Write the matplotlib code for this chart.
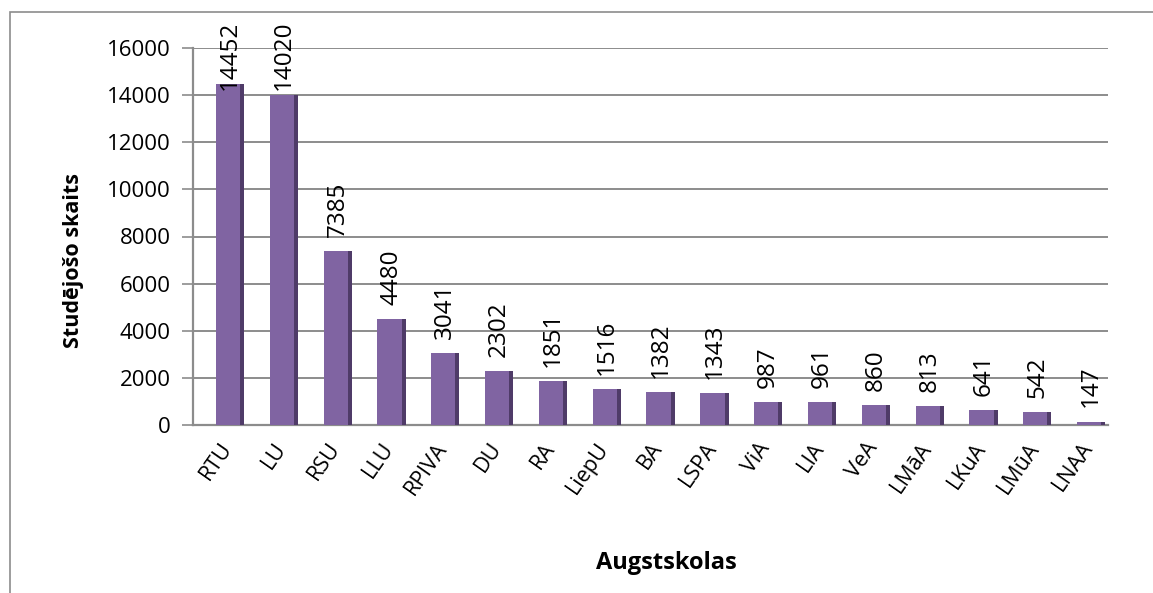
import matplotlib.pyplot as plt
from matplotlib.patches import Rectangle

# Dati
augstskolas = ['RTU', 'LU', 'RSU', 'LLU', 'RPIVA', 'DU', 'RA', 'LiepU', 'BA', 'LSPA',
               'ViA', 'LIA', 'VeA', 'LMāA', 'LKuA', 'LMūA', 'LNAA']
studejosie = [14452, 14020, 7385, 4480, 3041, 2302, 1851, 1516, 1382, 1343,
              987, 961, 860, 813, 641, 542, 147]

plt.rcParams['font.family'] = ['Open Sans', 'DejaVu Sans']

fig = plt.figure(figsize=(11.53, 5.93), dpi=100)
ax = fig.add_axes([193 / 1153, 1 - 425 / 593, 915 / 1153, 377 / 593])

# Rāmis ap diagrammu
fig.patches.append(Rectangle((10 / 1153, -0.1), 1.2, 1 - 12 / 593 + 0.1,
                             transform=fig.transFigure, fill=False,
                             edgecolor='#8c8c8c', linewidth=1.2))

x = list(range(len(augstskolas)))
bw = 0.45
sw = 0.075
ax.bar(x, studejosie, width=bw, color='#8064a2', zorder=3)
# tumšākā sānu mala (3D imitācija)
ax.bar([i + bw / 2 + sw / 2 for i in x], studejosie, width=sw,
       color='#4f3b68', zorder=3)

# vērtību etiķetes
for i, v in zip(x, studejosie):
    if v > 13000:
        ax.text(i + sw / 2, 17150, str(v), rotation=90, ha='center', va='top',
                fontsize=17.5, zorder=4)
    else:
        ax.text(i + sw / 2, v + 600, str(v), rotation=90, ha='center', va='bottom',
                fontsize=17.5, zorder=4)

ax.set_xlim(-0.65, len(augstskolas) - 0.65)
ax.set_ylim(0, 16000)
ax.set_yticks(range(0, 16001, 2000))
ax.set_xticks(x)
ax.set_xticklabels(augstskolas, rotation=55, ha='right', va='center',
                   rotation_mode='anchor', fontsize=15.5)
ax.tick_params(axis='y', labelsize=16, length=8, width=1.2, color='#8c8c8c', pad=8)
ax.tick_params(axis='x', length=0, pad=14)

ax.grid(axis='y', color='#8c8c8c', linewidth=1.4, zorder=0)
for s in ['top', 'right']:
    ax.spines[s].set_visible(False)
for s in ['left', 'bottom']:
    ax.spines[s].set_color('#8c8c8c')
    ax.spines[s].set_linewidth(1.6)

fig.text(73 / 1153, 1 - 260 / 593, 'Studējošo skaits', rotation=90,
         fontsize=15.5, fontweight='bold', ha='center', va='center')
fig.text(666 / 1153, 0.03, 'Augstskolas', fontsize=17, fontweight='bold',
         ha='center', va='bottom')

fig.savefig('out.png', dpi=100)
